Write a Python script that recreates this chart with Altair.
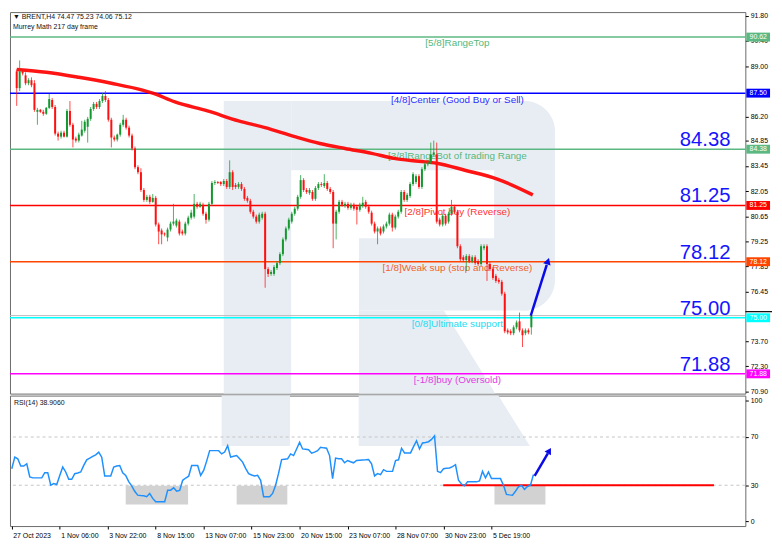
import altair as alt
import pandas as pd

# ---------------- data ----------------
bar_open = [
    88.71, 87.78, 88.71, 88.49, 88.05, 88.22, 88.05, 86.46, 86.57, 86.46,
    86.35, 86.68, 87.12, 86.73, 85.25, 85.08, 85.30, 85.08, 86.51, 85.74,
    84.97, 84.86, 85.14, 85.41, 85.63, 86.07, 86.62, 86.90, 86.73, 87.06,
    87.34, 87.12, 86.02, 85.03, 84.92, 85.19, 85.74, 86.02, 85.58, 85.14,
    84.42, 83.38, 83.10, 82.11, 81.56, 81.73, 81.45, 81.67, 80.19, 79.86,
    79.69, 79.47, 79.91, 80.24, 80.13, 80.35, 79.80, 79.69, 80.24, 80.57,
    80.63, 81.34, 81.18, 81.29, 80.79, 80.46, 81.34, 82.50, 82.55, 82.55,
    82.44, 82.61, 82.28, 83.10, 82.39, 82.28, 82.44, 82.17, 81.67, 81.51,
    80.90, 80.63, 80.35, 80.57, 80.79, 77.71, 77.44, 77.44, 77.77, 78.04,
    78.54, 79.36, 79.97, 80.35, 80.79, 81.07, 81.73, 82.66, 82.11, 81.95,
    82.00, 81.62, 82.22, 82.44, 82.33, 82.50, 82.17, 82.00, 80.24, 80.90,
    81.45, 81.23, 81.34, 81.12, 81.29, 81.18, 81.01, 81.23, 81.45, 81.18,
    80.85, 80.24, 79.80, 79.97, 79.80, 80.08, 80.24, 80.74, 80.02, 80.63,
    80.90, 82.00, 81.56, 81.78, 82.44, 82.55, 82.88, 82.28, 83.27, 83.54,
    83.65, 84.09, 84.09, 80.46, 80.19, 80.68, 80.35, 80.79, 81.18, 80.90,
    78.98, 78.37, 78.21, 78.43, 78.15, 78.37, 78.15, 77.99, 78.87, 78.98,
    77.99, 77.71, 77.33, 77.11, 77.00, 76.34, 74.30, 74.25, 74.14, 74.47,
    74.80, 74.30, 74.14, 74.30, 74.47,
]
bar_high = [
    88.82, 89.32, 88.82, 88.66, 88.33, 88.38, 88.22, 86.68, 86.62, 86.57,
    86.73, 87.45, 87.23, 86.84, 85.36, 85.41, 85.41, 86.62, 87.06, 85.85,
    85.08, 85.30, 85.96, 86.02, 86.18, 86.73, 87.01, 87.01, 87.17, 87.50,
    87.61, 87.23, 86.13, 85.14, 85.25, 85.85, 86.29, 86.13, 85.69, 85.25,
    84.53, 83.49, 83.32, 82.22, 81.84, 81.84, 81.89, 81.78, 80.30, 79.97,
    79.75, 80.02, 80.35, 81.34, 80.52, 80.46, 79.91, 80.35, 80.68, 81.01,
    81.89, 81.45, 81.45, 81.40, 80.90, 81.45, 82.61, 82.66, 82.61, 82.61,
    82.72, 82.72, 83.76, 83.21, 82.50, 82.55, 82.55, 82.28, 81.78, 81.62,
    81.01, 80.74, 80.85, 80.90, 80.90, 77.82, 77.66, 77.93, 78.15, 78.65,
    79.47, 80.08, 80.57, 80.90, 81.18, 81.84, 82.94, 82.77, 82.22, 82.22,
    82.11, 82.33, 82.55, 82.55, 82.99, 82.61, 82.28, 82.11, 81.01, 81.56,
    81.56, 81.45, 81.45, 81.40, 81.40, 81.29, 81.40, 81.73, 81.56, 81.29,
    80.96, 80.35, 80.08, 80.08, 80.19, 80.35, 80.85, 80.85, 80.74, 81.01,
    82.11, 82.11, 81.95, 82.55, 83.10, 82.99, 82.99, 83.38, 83.65, 83.76,
    84.75, 84.86, 84.75, 80.57, 80.79, 80.79, 80.90, 81.56, 81.29, 81.01,
    79.09, 78.48, 78.54, 78.54, 78.48, 78.48, 78.26, 79.09, 79.09, 79.09,
    78.10, 77.82, 77.44, 77.22, 77.11, 76.45, 74.41, 74.36, 74.58, 74.85,
    75.29, 74.41, 74.41, 74.41, 75.23,
]
bar_low = [
    86.79, 87.61, 88.49, 87.94, 87.94, 87.83, 86.46, 85.74, 86.40, 86.24,
    86.29, 86.62, 86.62, 85.14, 84.86, 84.97, 85.03, 85.03, 85.63, 84.48,
    84.75, 84.75, 85.08, 85.30, 84.75, 85.96, 86.51, 86.62, 86.62, 86.95,
    87.01, 85.91, 84.48, 84.81, 84.81, 85.08, 85.63, 85.47, 85.03, 84.31,
    83.27, 82.99, 82.00, 81.45, 81.45, 81.34, 81.40, 80.08, 79.09, 79.09,
    79.53, 79.25, 79.80, 80.13, 80.02, 79.58, 79.58, 79.58, 80.13, 80.46,
    80.52, 81.07, 81.12, 80.68, 80.24, 80.35, 81.23, 82.39, 82.44, 82.33,
    82.33, 82.17, 82.17, 82.11, 82.17, 82.17, 82.06, 81.51, 81.40, 80.79,
    80.52, 80.24, 80.24, 80.46, 76.67, 77.27, 77.33, 77.33, 77.66, 77.93,
    78.43, 79.25, 79.86, 80.24, 80.68, 80.96, 81.62, 82.00, 81.89, 81.84,
    81.51, 81.51, 82.11, 82.28, 82.22, 82.06, 81.89, 78.87, 79.36, 80.79,
    81.18, 81.12, 81.01, 81.01, 80.96, 80.19, 80.90, 81.12, 81.07, 80.79,
    80.13, 79.69, 79.09, 79.58, 79.69, 79.97, 80.13, 79.80, 79.91, 80.52,
    80.79, 81.45, 81.45, 81.67, 82.33, 82.44, 82.17, 82.17, 83.16, 83.43,
    83.54, 83.98, 80.24, 80.08, 80.08, 80.13, 80.24, 80.68, 80.79, 78.87,
    78.15, 78.10, 77.60, 78.04, 78.04, 77.93, 77.88, 77.88, 78.76, 77.05,
    77.60, 77.11, 76.94, 76.89, 76.23, 74.14, 74.08, 74.03, 74.03, 74.36,
    74.19, 73.37, 74.03, 74.08, 74.06,
]
bar_close = [
    87.78, 88.71, 88.60, 88.05, 88.22, 87.94, 86.57, 86.57, 86.46, 86.35,
    86.68, 87.17, 86.73, 85.25, 85.08, 85.30, 85.08, 86.51, 85.74, 84.92,
    84.86, 85.19, 85.47, 85.91, 86.07, 86.62, 86.90, 86.73, 87.06, 87.34,
    87.12, 86.02, 85.03, 84.92, 85.19, 85.74, 86.02, 85.58, 85.14, 84.42,
    83.38, 83.10, 82.11, 81.56, 81.73, 81.45, 81.67, 80.19, 79.80, 79.64,
    79.64, 79.91, 80.24, 80.35, 80.41, 79.69, 79.69, 80.24, 80.57, 80.85,
    81.34, 81.18, 81.34, 80.79, 80.46, 81.34, 82.50, 82.55, 82.50, 82.44,
    82.61, 82.28, 83.10, 82.28, 82.28, 82.44, 82.17, 81.62, 81.51, 80.90,
    80.63, 80.35, 80.74, 80.79, 77.71, 77.44, 77.55, 77.82, 78.04, 78.54,
    79.36, 79.97, 80.46, 80.79, 81.07, 81.73, 82.66, 82.11, 82.00, 82.11,
    81.62, 82.22, 82.44, 82.39, 82.50, 82.17, 82.00, 80.24, 80.90, 81.45,
    81.29, 81.34, 81.12, 81.29, 81.07, 81.01, 81.29, 81.40, 81.18, 80.90,
    80.24, 79.80, 79.97, 79.69, 80.08, 80.24, 80.74, 80.02, 80.63, 80.90,
    82.00, 81.56, 81.84, 82.44, 82.99, 82.88, 82.28, 83.27, 83.54, 83.65,
    84.09, 84.20, 80.35, 80.19, 80.68, 80.24, 80.79, 81.18, 80.90, 78.98,
    78.26, 78.21, 78.43, 78.15, 78.37, 78.04, 77.99, 78.98, 78.98, 77.99,
    77.71, 77.22, 77.05, 77.00, 76.34, 74.25, 74.19, 74.14, 74.47, 74.74,
    74.30, 74.03, 74.30, 74.19, 75.12,
]
rsi_values = [
    43.7, 53.3, 51.9, 45.9, 45.9, 47.8, 36.9, 36.1, 36.1, 36.1,
    36.1, 40.4, 40.4, 30.0, 31.4, 30.6, 38.0, 45.1, 41.0, 34.9,
    34.9, 39.6, 40.2, 41.0, 46.5, 51.1, 52.5, 54.0, 55.2, 57.4,
    53.3, 37.7, 37.7, 37.7, 45.1, 46.0, 46.4, 40.4, 38.2, 33.0,
    29.5, 25.0, 21.8, 21.5, 21.3, 20.5, 23.2, 19.1, 16.4, 16.4,
    16.4, 16.4, 25.9, 25.9, 27.9, 25.1, 25.7, 34.1, 36.0, 37.5,
    46.4, 46.4, 46.4, 38.2, 42.3, 50.0, 58.7, 58.7, 58.7, 58.7,
    56.0, 57.5, 62.8, 53.3, 54.0, 54.6, 52.0, 49.2, 44.0, 39.6,
    38.5, 37.7, 38.2, 34.1, 20.5, 20.5, 20.5, 23.2, 30.0, 40.0,
    51.3, 51.6, 51.9, 56.0, 54.6, 60.0, 65.6, 60.1, 59.8, 59.5,
    56.6, 57.5, 58.7, 61.5, 61.0, 60.7, 54.6, 35.5, 52.5, 52.0,
    51.9, 48.6, 50.5, 49.5, 48.6, 50.5, 50.8, 51.0, 51.1, 51.3,
    47.8, 37.7, 39.6, 38.8, 42.9, 41.5, 41.5, 41.5, 50.5, 51.1,
    60.7, 56.8, 56.8, 56.8, 62.0, 66.9, 60.1, 65.0, 65.5, 66.1,
    68.0, 71.0, 41.5, 40.4, 43.7, 44.0, 44.3, 45.5, 47.0, 34.1,
    31.0, 29.5, 32.8, 32.8, 32.8, 32.8, 33.5, 41.5, 36.1, 41.0,
    35.5, 35.5, 35.5, 35.5, 30.0, 22.4, 22.0, 21.8, 25.0, 28.7,
    30.0, 26.5, 29.0, 30.0, 38.91,
]
ma_index = [0, 10, 21, 32, 42.5, 46, 53.5, 64.5, 75, 84, 94, 102.5, 111, 120,
            127.5, 136, 142, 151.5, 162.5, 174.5]
ma_values = [88.82, 88.66, 88.38, 88.05, 87.67, 87.50, 87.01, 86.51, 85.96, 85.58,
             85.08, 84.70, 84.42, 84.15, 83.87, 83.71, 83.60, 83.21, 82.72, 81.84]

level_values = [90.62, 87.50, 84.38, 81.25, 78.12, 75.00, 71.88]
level_names = ["[5/8]RangeTop", "[4/8]Center (Good Buy or Sell)",
               "[3/8]RangeBot of trading Range", "[2/8]Pivot buy (Reverse)",
               "[1/8]Weak sup (stop and Reverse)", "[0/8]Ultimate support",
               "[-1/8]buy (Oversold)"]
big_levels = [84.38, 81.25, 78.12, 75.00, 71.88]
# tick labels visible on the price scale (87.60 and 75.05 sit fully under badges)
price_ticks = [91.80, 90.40, 89.00, 86.20, 84.85, 83.45, 82.05, 80.65,
               79.25, 77.85, 76.45, 73.70, 72.30, 70.90]
rsi_ticks = [0, 30, 70, 100]
rsi_levels = [30, 70]
date_positions = [0, 16, 32, 48, 64, 80, 96, 112, 128, 144, 160]
date_labels = ["27 Oct 2023", "1 Nov 06:00", "3 Nov 22:00", "8 Nov 15:00",
               "13 Nov 07:00", "15 Nov 23:00", "20 Nov 15:00", "23 Nov 07:00",
               "28 Nov 07:00", "30 Nov 23:00", "5 Dec 19:00"]
last_price = 75.12
header_line1 = "\u25bc BRENT,H4  74.47 75.23 74.06 75.12"
header_line2 = "Murrey Math 217 day frame"
rsi_title = "RSI(14) 38.9060"

# annotations (bar index / value coordinates)
arrow_x = [173.8, 179.2]
arrow_p = [75.12, 77.95]
arrow_head = (179.6, 78.15)
rsi_arrow_x = [174.4, 178.8]
rsi_arrow_v = [37.7, 56.5]
rsi_arrow_head = (179.3, 58.7)
support_x = [143.9, 234.2]
oversold_box_x1 = [38.0, 75.0, 161.0]
oversold_box_x2 = [58.8, 91.9, 178.0]
oversold_box_top = 29.5
oversold_box_bottom = 14.0

# ---------------- styles ----------------
FONT = "Liberation Sans"
GREEN = "#13982f"
RED = "#ff1010"
WM = "#e8edf4"
level_line_colors = ["#5cb882", "#0000ff", "#5cb882", "#ff0000", "#ff4500", "#00ffff", "#ff00ff"]
level_text_colors = ["#55b87c", "#2e2eff", "#55b87c", "#ff3535", "#f0622a", "#1cdcf2", "#e23ce2"]
BIG_BLUE = "#1414ff"

X_DOM = [-0.6, 244.67]
P_DOM = [70.78, 92.01]
R_DOM = [-3.85, 104.34]
W, H_TOP, H_RSI = 744, 386, 132

xs = alt.Scale(domain=X_DOM, nice=False, zero=False)
ps = alt.Scale(domain=P_DOM, nice=False, zero=False)
rs = alt.Scale(domain=R_DOM, nice=False, zero=False)

price_axis = alt.Axis(orient="right", values=price_ticks, format=".2f", title=None,
                      grid=False, domain=False, tickSize=3, tickColor="#000",
                      labelColor="#000", labelFontSize=7, labelFont=FONT,
                      labelPadding=2, labelOverlap=False, labelFlush=False)
rsi_axis = alt.Axis(orient="right", values=rsi_ticks, format="d", title=None,
                    grid=False, domain=False, tickSize=3, tickColor="#000",
                    labelColor="#000", labelFontSize=7, labelFont=FONT,
                    labelPadding=2, labelOverlap=False, labelFlush=False)
lab_arr = "[" + ",".join("'" + s + "'" for s in date_labels) + "]"
pos_arr = "[" + ",".join(str(p) for p in date_positions) + "]"
date_axis = alt.Axis(orient="bottom", values=date_positions,
                     labelExpr=f"{lab_arr}[indexof({pos_arr}, datum.value)]",
                     title=None, grid=False, domain=False, tickSize=3, tickColor="#000",
                     labelColor="#000", labelFontSize=7, labelFont=FONT,
                     labelAlign="left", labelBaseline="top", labelPadding=3,
                     labelOffset=1, labelOverlap=False, labelFlush=False)


def PX(f):
    return alt.X(f"{f}:Q", scale=xs, axis=None)


def PY(f):
    return alt.Y(f"{f}:Q", scale=ps, axis=price_axis)


def RX(f):
    return alt.X(f"{f}:Q", scale=xs, axis=date_axis)


def RY(f):
    return alt.Y(f"{f}:Q", scale=rs, axis=rsi_axis)


# ---------------- top panel ----------------
N = len(bar_close)
candles = pd.DataFrame({"i": list(range(N)), "o": bar_open, "h": bar_high,
                        "l": bar_low, "c": bar_close})
up = "datum.c >= datum.o"

# watermark "R" (decoration, price coordinates)
wm_top_rects = pd.DataFrame({"x1": [70.0, 92.8, 115.7], "x2": [92.8, 173.0, 173.0],
                             "y1": [70.78, 83.21, 75.40], "y2": [87.06, 87.06, 79.42]})
wm_bowl = pd.DataFrame({"x1": [161.4], "x2": [182.0], "y1": [75.40], "y2": [87.06]})
wm_leg_top = pd.DataFrame({"y": [75.40, 70.78], "x1": [115.7, 115.7], "x2": [144.4, 161.8]})

wm1 = alt.Chart(wm_top_rects).mark_rect(color=WM).encode(
    x=PX("x1"), x2="x2", y=PY("y1"), y2="y2")
wm2 = alt.Chart(wm_bowl).mark_rect(color=WM, cornerRadius=31).encode(
    x=PX("x1"), x2="x2", y=PY("y1"), y2="y2")
wm3 = alt.Chart(wm_leg_top).mark_area(color=WM, orient="horizontal").encode(
    y=PY("y"), x=PX("x2"), x2="x1")

levels = pd.DataFrame({"p": level_values, "name": level_names,
                       "lc": level_line_colors, "tc": level_text_colors})
level_rules = alt.Chart(levels).mark_rule(strokeWidth=1.5).encode(
    y=PY("p"), color=alt.Color("lc:N", scale=None))
level_text = alt.Chart(levels).mark_text(align="center", baseline="top", dy=1.5,
                                         fontSize=10, font=FONT).encode(
    x=alt.datum(149.0, scale=xs, axis=None), y=PY("p"), text="name:N",
    color=alt.Color("tc:N", scale=None))

big = pd.DataFrame({"p": big_levels})
big_text = alt.Chart(big).mark_text(align="right", baseline="alphabetic", dy=-3,
                                    fontSize=20.5, font=FONT, color=BIG_BLUE).encode(
    x=alt.datum(241.3, scale=xs, axis=None), y=PY("p"), text=alt.Text("p:Q", format=".2f"))

lp = pd.DataFrame({"p": [last_price]})
price_line = alt.Chart(lp).mark_rule(color="#b8b8b8", strokeWidth=1).encode(y=PY("p"))
ask_mark = alt.Chart(lp).mark_rule(color="#000", strokeWidth=1.2).encode(
    y=PY("p"), x=alt.value(W), x2=alt.value(W + 27), yOffset=alt.value(-4))

ma_df = pd.DataFrame({"i": ma_index, "p": ma_values})
ma_line = alt.Chart(ma_df).mark_line(color="#ff0000", strokeWidth=3.5, opacity=0.92,
                                     interpolate="monotone").encode(x=PX("i"), y=PY("p"))

wicks = alt.Chart(candles).mark_rule(strokeWidth=1, opacity=0.75).encode(
    x=PX("i"), y=PY("l"), y2="h",
    color=alt.condition(up, alt.value(GREEN), alt.value(RED)))
bodies = alt.Chart(candles).mark_bar(size=2).encode(
    x=PX("i"), y=PY("o"), y2="c",
    color=alt.condition(up, alt.value(GREEN), alt.value(RED)))

arr = pd.DataFrame({"i": arrow_x, "p": arrow_p})
arrow_line = alt.Chart(arr).mark_line(color="#0a0ae8", strokeWidth=2.5).encode(
    x=PX("i"), y=PY("p"))
arrow_tip = alt.Chart(pd.DataFrame({"i": [arrow_head[0]], "p": [arrow_head[1]]})).mark_point(
    shape="triangle-up", filled=True, size=60, angle=18, color="#0a0ae8", opacity=1).encode(
    x=PX("i"), y=PY("p"))

badge_path = "M-1,-0.375H1V0.375H-1Z"
badges = alt.Chart(levels).mark_point(shape=badge_path, filled=True, size=576,
                                      opacity=1, strokeWidth=0).encode(
    x=alt.value(W + 13), y=PY("p"), color=alt.Color("lc:N", scale=None))
badge_text = alt.Chart(levels).mark_text(fontSize=7, font=FONT, color="white",
                                         align="center", baseline="middle").encode(
    x=alt.value(W + 13), y=PY("p"), text=alt.Text("p:Q", format=".2f"))

hdr = pd.DataFrame({"t": [header_line1, header_line2], "yy": [4.5, 15]})
header = alt.Chart(hdr).mark_text(align="left", baseline="middle", fontSize=7,
                                  font=FONT, color="#111").encode(
    x=alt.value(3), y=alt.Y("yy:Q", scale=None), text="t:N")

top = alt.layer(wm1, wm2, wm3, price_line, level_rules, level_text, big_text, ma_line,
                wicks, bodies, arrow_line, arrow_tip, ask_mark, badges, badge_text,
                header).properties(width=W, height=H_TOP)

# ---------------- RSI panel ----------------
wm_rsi_stem = pd.DataFrame({"x1": [70.0], "x2": [92.8], "y1": [62.5], "y2": [104.34]})
wm_rsi_leg = pd.DataFrame({"y": [104.34, 62.5], "x1": [115.7, 115.7], "x2": [162.3, 172.8]})
rwm1 = alt.Chart(wm_rsi_stem).mark_rect(color=WM).encode(
    x=RX("x1"), x2="x2", y=RY("y1"), y2="y2")
rwm2 = alt.Chart(wm_rsi_leg).mark_area(color=WM, orient="horizontal").encode(
    y=RY("y"), x=RX("x2"), x2="x1")

boxes = pd.DataFrame({"x1": oversold_box_x1, "x2": oversold_box_x2,
                      "y1": [oversold_box_bottom] * 3, "y2": [oversold_box_top] * 3})
box_marks = alt.Chart(boxes).mark_rect(color="#d2d2d2").encode(
    x=RX("x1"), x2="x2", y=RY("y1"), y2="y2")

dash = alt.Chart(pd.DataFrame({"v": rsi_levels})).mark_rule(
    color="#c4c4c4", strokeDash=[3, 3], strokeWidth=1).encode(y=RY("v"))

sup = alt.Chart(pd.DataFrame({"x1": [support_x[0]], "x2": [support_x[1]], "v": [30]})).mark_rule(
    color="#ff0000", strokeWidth=2).encode(x=RX("x1"), x2="x2", y=RY("v"))

rsi_df = pd.DataFrame({"i": list(range(N)), "v": rsi_values})
rsi_line = alt.Chart(rsi_df).mark_line(color="#1e90ff", strokeWidth=1.5).encode(
    x=RX("i"), y=RY("v"))

rarr = pd.DataFrame({"i": rsi_arrow_x, "v": rsi_arrow_v})
rarrow_line = alt.Chart(rarr).mark_line(color="#0a0ae8", strokeWidth=2.5).encode(
    x=RX("i"), y=RY("v"))
rarrow_tip = alt.Chart(pd.DataFrame({"i": [rsi_arrow_head[0]], "v": [rsi_arrow_head[1]]})).mark_point(
    shape="triangle-up", filled=True, size=55, angle=30, color="#0a0ae8", opacity=1).encode(
    x=RX("i"), y=RY("v"))

rt = alt.Chart(pd.DataFrame({"t": [rsi_title]})).mark_text(
    align="left", baseline="middle", fontSize=7, font=FONT, color="#111").encode(
    x=alt.value(4), y=alt.value(8), text="t:N")

bottom = alt.layer(rwm1, rwm2, box_marks, dash, sup, rsi_line, rarrow_line, rarrow_tip,
                   rt).properties(width=W, height=H_RSI)

chart = alt.vconcat(top, bottom, spacing=2, bounds="flush").properties(
    padding=0, background="white"
).configure_view(stroke="#6a6a6a", strokeWidth=1).configure_text(font=FONT)

chart.save("out.html", embed_options={"renderer": "svg", "actions": False})
